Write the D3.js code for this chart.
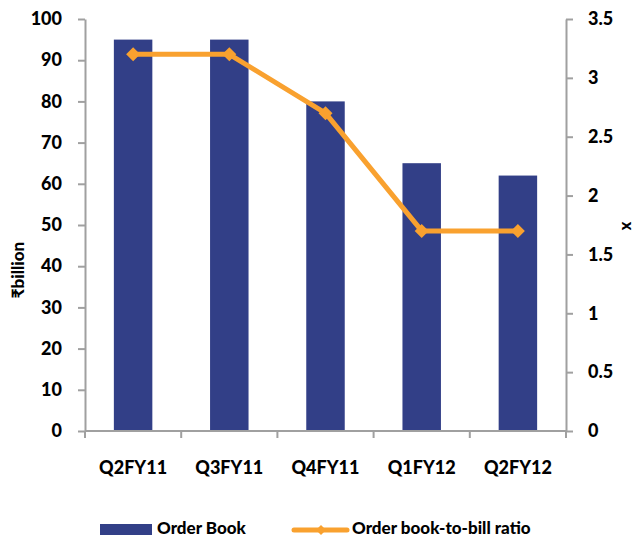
<!DOCTYPE html>
<html>
<head>
<meta charset="utf-8">
<script src="https://cdn.jsdelivr.net/npm/d3@7"></script>
<style>
  body { margin: 0; background: #fff; }
  svg text { font-family: Lato, "Open Sans", sans-serif; font-weight: 900; fill: #000; }
</style>
</head>
<body>
<svg id="chart" width="639" height="539"></svg>
<script>
const categories = ["Q2FY11", "Q3FY11", "Q4FY11", "Q1FY12", "Q2FY12"];
const orderBook = [95, 95, 80, 65, 62];
const bookToBill = [3.2, 3.2, 2.7, 1.7, 1.7];
const leftTicks = [0, 10, 20, 30, 40, 50, 60, 70, 80, 90, 100];
const rightTicks = [0, 0.5, 1, 1.5, 2, 2.5, 3, 3.5];

const svg = d3.select("#chart");
const plotLeft = 85, plotRight = 566, plotTop = 19, plotBottom = 431;
const axisColor = "#a0a0a0";
const barColor = "#323f87";
const lineColor = "#f9a12f";
const fs = 18;

const x = d3.scaleBand().domain(categories).range([plotLeft, plotRight]).paddingInner(0).paddingOuter(0);
const yL = d3.scaleLinear().domain([0, 100]).range([plotBottom, plotTop]);
const yR = d3.scaleLinear().domain([0, 3.5]).range([plotBottom, plotTop]);

// bars
const bw = x.bandwidth() * 0.4;
svg.append("g").selectAll("rect").data(orderBook).join("rect")
  .attr("x", (d, i) => x(categories[i]) + x.bandwidth() / 2 - bw / 2)
  .attr("y", d => yL(d))
  .attr("width", bw)
  .attr("height", d => yL(0) - yL(d))
  .attr("fill", barColor);

// left axis
const gL = svg.append("g").attr("transform", `translate(${plotLeft},0)`)
  .call(d3.axisLeft(yL).tickValues(leftTicks).tickSize(7).tickPadding(16).tickSizeOuter(0));
// right axis
const gR = svg.append("g").attr("transform", `translate(${plotRight},0)`)
  .call(d3.axisRight(yR).tickValues(rightTicks).tickSize(7).tickPadding(15).tickSizeOuter(0)
    .tickFormat(d => d3.format("")(d)));
// bottom axis: ticks at category boundaries
const boundaries = categories.map(c => x(c)).concat([plotRight]);
const gB = svg.append("g").attr("transform", `translate(0,${plotBottom})`);
gB.append("line").attr("x1", plotLeft).attr("x2", plotRight).attr("stroke", axisColor).attr("stroke-width", 2);
gB.selectAll("line.tk").data(boundaries).join("line").attr("class", "tk")
  .attr("x1", d => d).attr("x2", d => d).attr("y1", 0).attr("y2", 7)
  .attr("stroke", axisColor).attr("stroke-width", 2);
gB.selectAll("text").data(categories).join("text")
  .attr("x", d => x(d) + x.bandwidth() / 2).attr("y", 43)
  .attr("text-anchor", "middle").attr("font-size", fs).text(d => d);

[gL, gR].forEach(g => {
  g.selectAll("path.domain").attr("stroke", axisColor).attr("stroke-width", 2);
  g.selectAll(".tick line").attr("stroke", axisColor).attr("stroke-width", 2);
  g.selectAll(".tick text").attr("font-size", fs).attr("font-family", "Lato, sans-serif").attr("font-weight", 900);
});

// line series
const cx = (d, i) => x(categories[i]) + x.bandwidth() / 2;
svg.append("path").datum(bookToBill)
  .attr("d", d3.line().x(cx).y(d => yR(d)))
  .attr("fill", "none").attr("stroke", lineColor).attr("stroke-width", 5).attr("stroke-linejoin", "round");
svg.append("g").selectAll("path").data(bookToBill).join("path")
  .attr("transform", (d, i) => `translate(${cx(d, i)},${yR(d)})`)
  .attr("d", "M0,-7L7,0L0,7L-7,0Z")
  .attr("fill", lineColor);

// axis titles
svg.append("text").attr("transform", "translate(24,270) rotate(-90)")
  .attr("text-anchor", "middle").attr("font-size", fs - 1).text("₹billion");
svg.append("text").attr("transform", "translate(622,226) rotate(90)")
  .attr("text-anchor", "middle").attr("font-size", fs - 2).text("x");

// legend
const lg = svg.append("g");
lg.append("rect").attr("x", 100).attr("y", 524).attr("width", 52).attr("height", 11).attr("fill", barColor);
lg.append("text").attr("x", 157).attr("y", 534).attr("font-size", fs - 1).text("Order Book");
lg.append("line").attr("x1", 294).attr("x2", 347).attr("y1", 530).attr("y2", 530)
  .attr("stroke", lineColor).attr("stroke-width", 5).attr("stroke-linecap", "round");
lg.append("path").attr("transform", "translate(321,530)").attr("d", "M0,-5L5,0L0,5L-5,0Z").attr("fill", lineColor);
lg.append("text").attr("x", 352).attr("y", 534).attr("font-size", fs - 1).text("Order book-to-bill ratio");
</script>
</body>
</html>
